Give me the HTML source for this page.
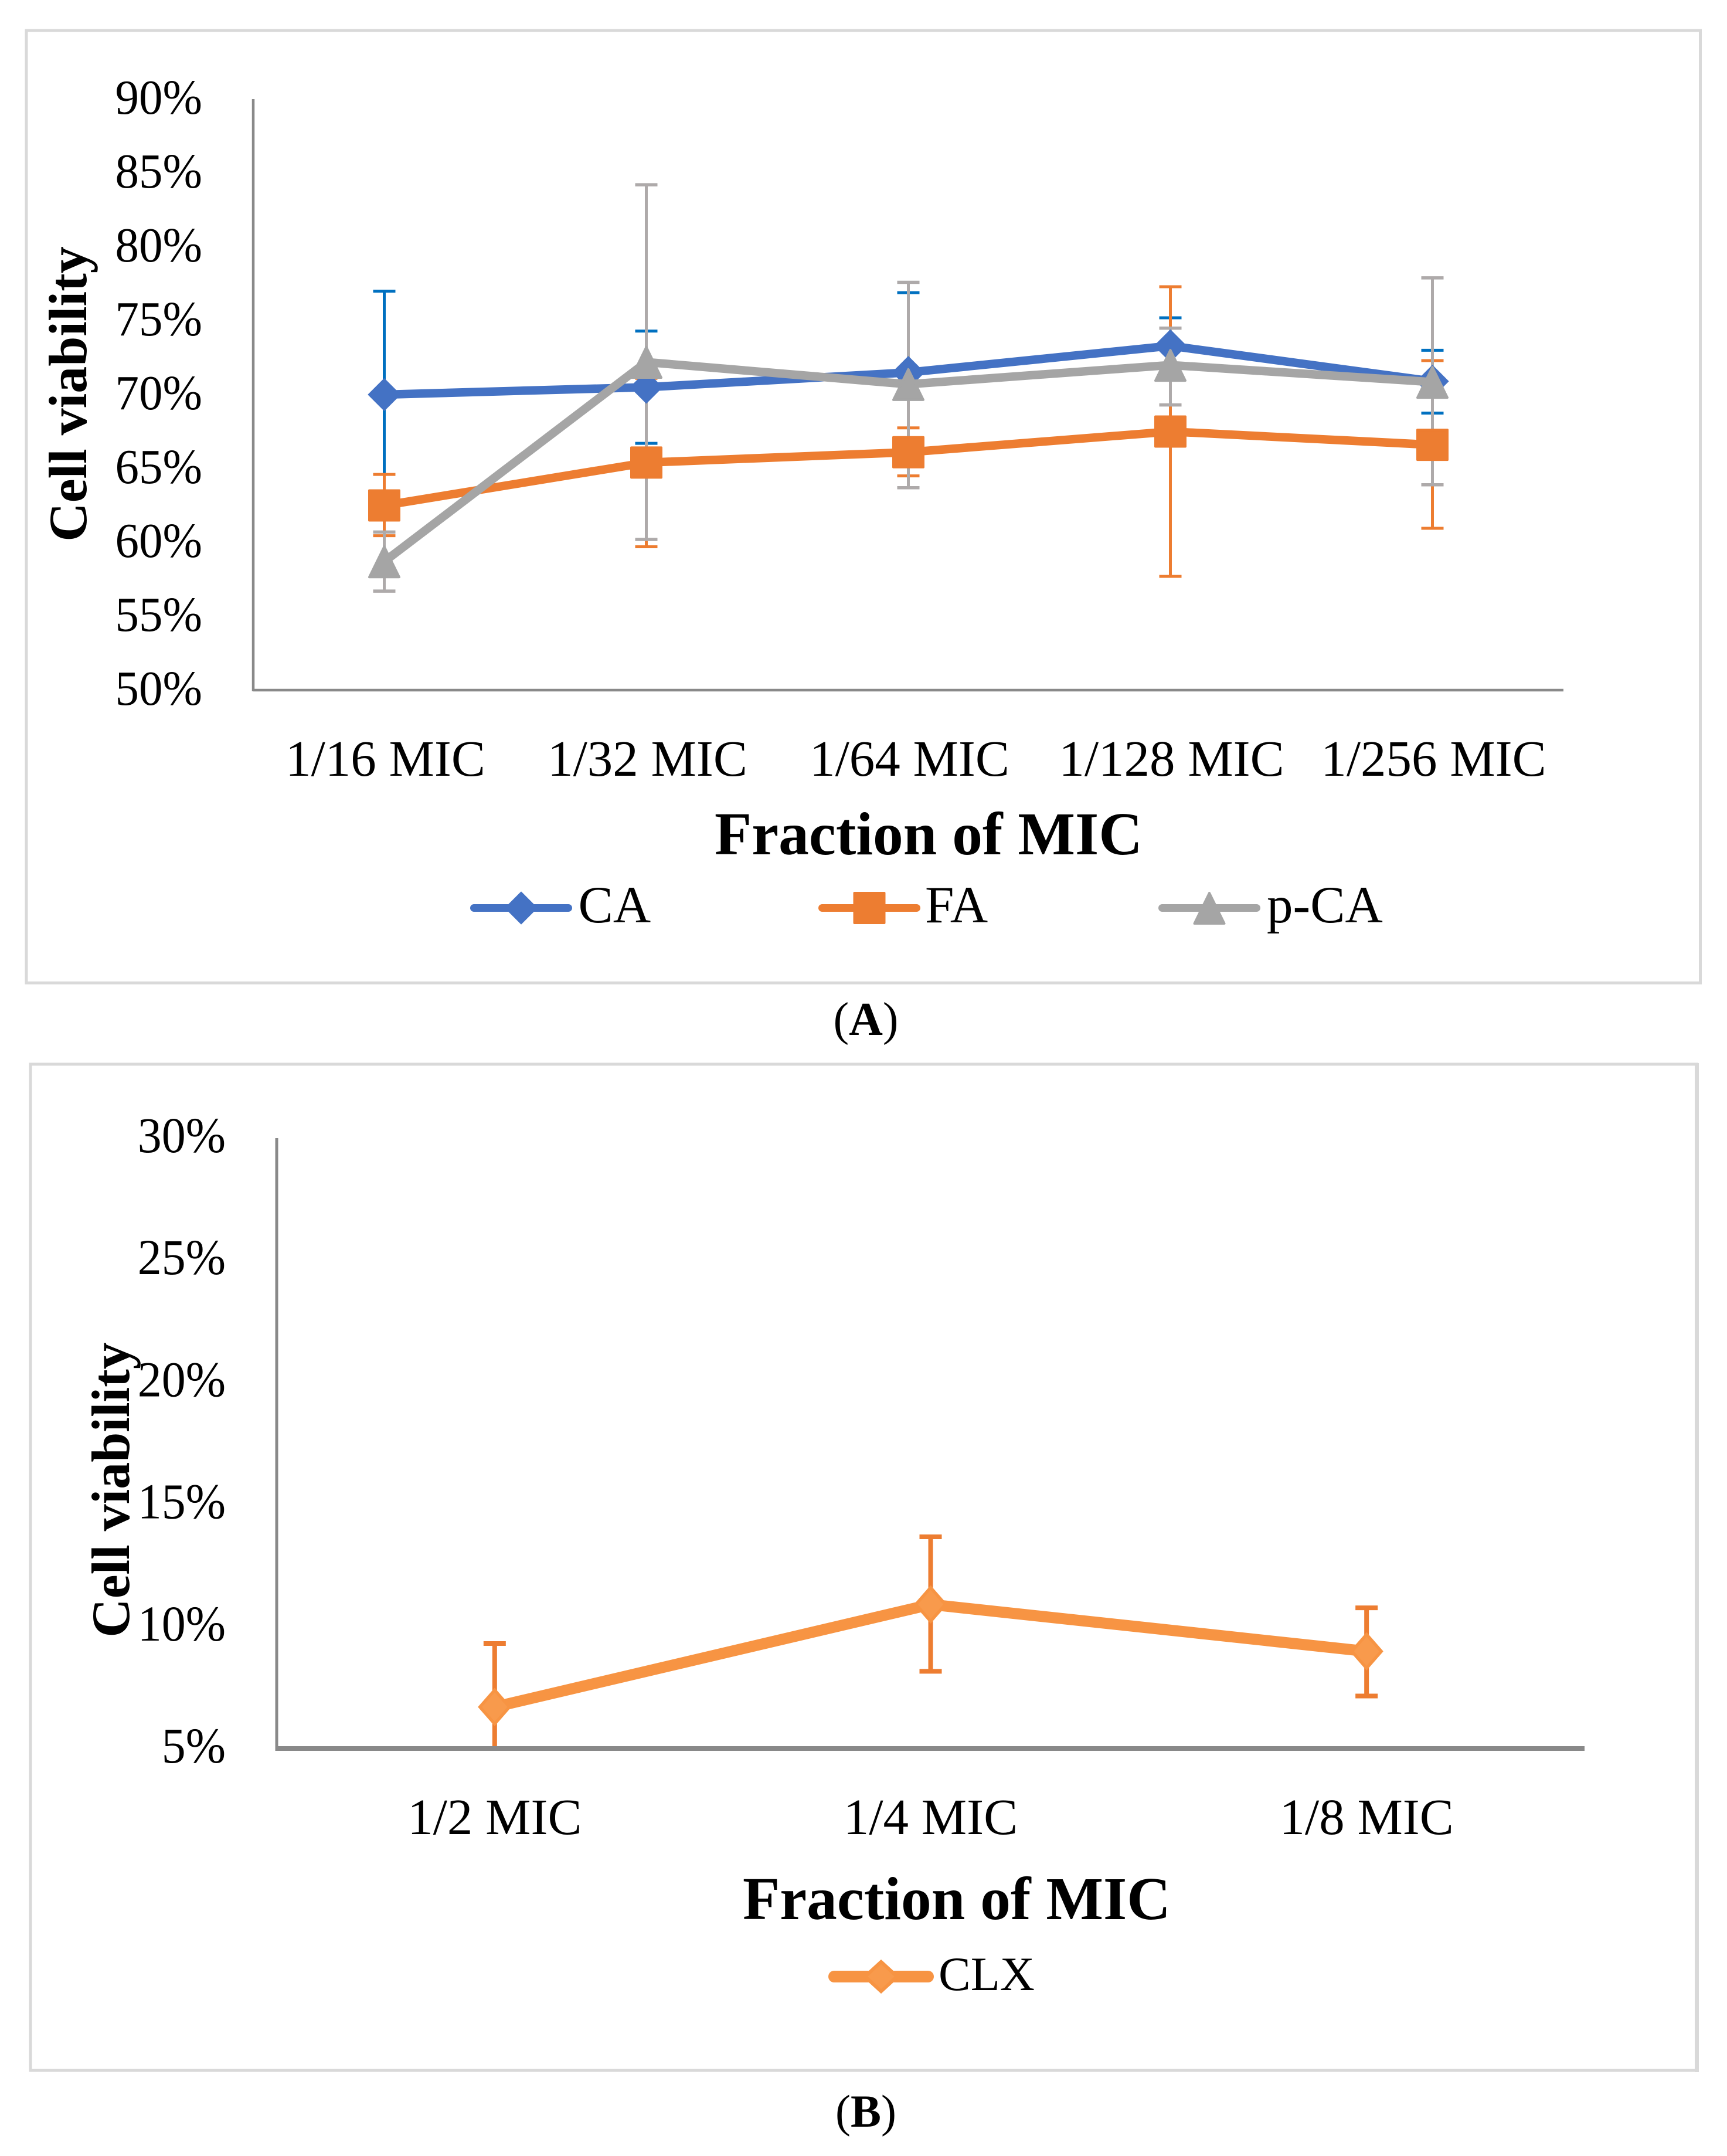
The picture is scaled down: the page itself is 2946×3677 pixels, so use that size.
<!DOCTYPE html>
<html lang="en">
<head>
<meta charset="utf-8">
<title>Cell viability vs fraction of MIC</title>
<style>
html,body{margin:0;padding:0;background:#fff;}
svg{display:block;position:absolute;left:0;top:0;}
text{font-family:"Liberation Serif","Times New Roman",serif;fill:#000;}
</style>
</head>
<body>
<svg id="fig" xmlns="http://www.w3.org/2000/svg" width="2946" height="3677" viewBox="0 0 2946 3677">
  <rect x="0" y="0" width="2946" height="3677" fill="#fff"/>
  <rect x="45" y="52" width="2855.5" height="1624.3" fill="#fff" stroke="#d9d9d9" stroke-width="5"/>
  <rect x="52" y="1815" width="2842.5" height="1716" fill="#fff" stroke="#d9d9d9" stroke-width="5"/>
  <line x1="2894.5" x2="2894.5" y1="1813" y2="3534" stroke="#d9d9d9" stroke-width="7"/>
  <g id="chartA"></g>
  <g id="chartB"></g>
  <text x="1477" y="1765" font-size="80" text-anchor="middle">(<tspan font-weight="bold">A</tspan>)</text>
  <text x="1477" y="3627" font-size="78" text-anchor="middle">(<tspan font-weight="bold">B</tspan>)</text>
</svg>
<script>
// Panel A data (percent)
const categoriesA = ['1/16 MIC', '1/32 MIC', '1/64 MIC', '1/128 MIC', '1/256 MIC'];
const ticksA = [50, 55, 60, 65, 70, 75, 80, 85, 90];
const caValues = [70.0, 70.5, 71.5, 73.3, 70.9];
const caHigh = [77.0, 74.3, 76.9, 75.2, 73.0];
const caLow = [63.0, 66.7, 66.1, 71.4, 68.75];
const faValues = [62.5, 65.4, 66.1, 67.5, 66.6];
const faHigh = [64.6, 71.1, 67.75, 77.3, 72.3];
const faLow = [60.45, 59.7, 64.5, 57.7, 60.95];
const pcaValues = [58.7, 72.2, 70.7, 72.0, 70.85];
const pcaHigh = [60.7, 84.2, 77.6, 74.5, 77.9];
const pcaLow = [56.7, 60.2, 63.7, 69.3, 63.9];

// Panel B data (percent)
const categoriesB = ['1/2 MIC', '1/4 MIC', '1/8 MIC'];
const ticksB = [5, 10, 15, 20, 25, 30];
const clxValues = [6.7, 10.9, 8.98];
const clxHigh = [9.3, 13.67, 10.76];
const clxLow = [5.0, 8.16, 7.15];

const NS = 'http://www.w3.org/2000/svg';

function make(parent, tag, name, attrs, content) {
  const e = document.createElementNS(NS, tag);
  
  
  for (const k in attrs) e.setAttribute(k, attrs[k]);
  if (content !== undefined) e.textContent = content;
  parent.appendChild(e);
  return e;
}

function scaleLinear(d0, d1, r0, r1) {
  return v => r0 + (v - d0) * (r1 - r0) / (d1 - d0);
}

function bandCenter(left, right, count) {
  return i => left + (right - left) * (i + 0.5) / count;
}

function marker(parent, shape, name, cx, cy, w, h, color) {
  const hw = w / 2, hh = h / 2;
  if (shape === 'square') {
    make(parent, 'rect', name, {x: cx - hw + 2, y: cy - hh + 2, width: w - 4, height: h - 4, fill: color, stroke: color, 'stroke-width': 4, 'stroke-linejoin': 'round'});
  } else if (shape === 'diamond') {
    make(parent, 'polygon', name, {points: [cx, cy - hh, cx + hw, cy, cx, cy + hh, cx - hw, cy].join(' '), fill: color, stroke: color, 'stroke-width': 1, 'stroke-linejoin': 'round'});
  } else {
    make(parent, 'polygon', name, {points: [cx, cy - hh + 2, cx + hw - 2, cy + hh - 1, cx - hw + 2, cy + hh - 1].join(' '), fill: color, stroke: color, 'stroke-width': 4, 'stroke-linejoin': 'round'});
  }
}

function errorBars(parent, id, x, y, high, low, color, sw, capW, capH) {
  high.forEach((hv, i) => {
    const g = make(parent, 'g', id + '-error-bar-' + (i + 1), {});
    const cx = x(i);
    make(g, 'line', id + '-error-stem', {x1: cx, x2: cx, y1: y(hv), y2: y(low[i]), stroke: color, 'stroke-width': sw});
    make(g, 'line', id + '-error-cap-high', {x1: cx - capW, x2: cx + capW, y1: y(hv), y2: y(hv), stroke: color, 'stroke-width': capH});
    make(g, 'line', id + '-error-cap-low', {x1: cx - capW, x2: cx + capW, y1: y(low[i]), y2: y(low[i]), stroke: color, 'stroke-width': capH});
  });
}

function seriesLine(parent, id, x, y, values, color, lw) {
  const pts = values.map((v, i) => x(i) + ',' + y(v)).join(' ');
  make(parent, 'polyline', id + '-line', {points: pts, fill: 'none', stroke: color, 'stroke-width': lw, 'stroke-linejoin': 'miter'});
}

function scaledText(parent, name, x, y, size, sy, anchor, str) {
  make(parent, 'text', name, {transform: 'translate(' + x + ' ' + y + ') scale(1 ' + sy + ')', 'font-size': size, 'text-anchor': anchor}, str);
}

// ---------- Panel A ----------
(function () {
  const root = document.getElementById('chartA');
  const left = 432, right = 2667, top = 169, bottom = 1177;
  const x = bandCenter(left, right, categoriesA.length);
  const y = scaleLinear(50, 90, bottom, top);
  const grey = '#898989';

  make(root, 'line', 'y-axis-a', {x1: left, x2: left, y1: top, y2: bottom + 2, stroke: grey, 'stroke-width': 4.5});
  make(root, 'line', 'x-axis-a', {x1: left, x2: right, y1: bottom, y2: bottom, stroke: grey, 'stroke-width': 4.5});

  ticksA.forEach(t => {
    scaledText(root, 'y-tick-a-' + t, 345, y(t) + 25, 81, 1.03, 'end', t + '%');
  });
  categoriesA.forEach((c, i) => {
    scaledText(root, 'x-tick-a-' + (i + 1), x(i) + 2, 1323, 87, 1, 'middle', c);
  });

  make(root, 'text', 'x-axis-title-a', {x: 1584, y: 1457, 'font-size': 103.5, 'font-weight': 'bold', 'text-anchor': 'middle'}, 'Fraction of MIC');
  make(root, 'text', 'y-axis-title-a', {transform: 'translate(147 672) rotate(-90)', 'font-size': 92, 'font-weight': 'bold', 'text-anchor': 'middle'}, 'Cell viability');

  errorBars(root, 'ca', x, y, caHigh, caLow, '#0070c0', 5, 19, 5);
  errorBars(root, 'fa', x, y, faHigh, faLow, '#ed7d31', 5, 19, 5);
  errorBars(root, 'pca', x, y, pcaHigh, pcaLow, '#aeaaaa', 5, 19, 5.5);

  const series = [
    {id: 'ca', values: caValues, color: '#4472c4', shape: 'diamond'},
    {id: 'fa', values: faValues, color: '#ed7d31', shape: 'square'},
    {id: 'pca', values: pcaValues, color: '#a5a5a5', shape: 'triangle'}
  ];
  series.forEach(s => {
    seriesLine(root, s.id, x, y, s.values, s.color, 14.5);
    s.values.forEach((v, i) => {
      marker(root, s.shape, s.id + '-point-' + (i + 1), x(i), y(v), 55, 55, s.color);
    });
  });

  // legend
  const legendY = 1548.5;
  const legend = [
    {name: 'CA', lx: 802, tx: 986.5, color: '#4472c4', shape: 'diamond'},
    {name: 'FA', lx: 1396, tx: 1578, color: '#ed7d31', shape: 'square'},
    {name: 'p-CA', lx: 1976, tx: 2161, color: '#a5a5a5', shape: 'triangle'}
  ];
  legend.forEach(l => {
    const g = make(root, 'g', 'legend-entry-' + l.name.toLowerCase(), {});
    make(g, 'line', 'legend-line', {x1: l.lx + 6.5, x2: l.lx + 167.5, y1: legendY, y2: legendY, stroke: l.color, 'stroke-width': 13, 'stroke-linecap': 'round'});
    marker(g, l.shape, 'legend-marker', l.lx + 87, legendY, 55, 55, l.color);
    make(g, 'text', 'legend-label', {x: l.tx, y: 1573, 'font-size': 89}, l.name);
  });
})();

// ---------- Panel B ----------
(function () {
  const root = document.getElementById('chartB');
  const left = 472, right = 2703, top = 1941, bottom = 2982;
  const x = bandCenter(left, right, categoriesB.length);
  const y = scaleLinear(5, 30, bottom, top);
  const grey = '#898989';
  const clxColor = '#f79443';
  const clxInner = '#f89a4c';

  make(root, 'line', 'y-axis-b', {x1: left, x2: left, y1: top, y2: bottom + 4, stroke: grey, 'stroke-width': 5});

  errorBars(root, 'clx', x, y, clxHigh, clxLow, '#ed7d31', 8, 19, 8);

  make(root, 'line', 'x-axis-b', {x1: left - 2, x2: right, y1: bottom, y2: bottom, stroke: grey, 'stroke-width': 8});

  ticksB.forEach(t => {
    scaledText(root, 'y-tick-b-' + t, 385, y(t) + 24, 82, 1.04, 'end', t + '%');
  });
  categoriesB.forEach((c, i) => {
    scaledText(root, 'x-tick-b-' + (i + 1), x(i), 3128, 87, 1, 'middle', c);
  });

  make(root, 'text', 'x-axis-title-b', {x: 1632, y: 3273, 'font-size': 103.5, 'font-weight': 'bold', 'text-anchor': 'middle'}, 'Fraction of MIC');
  make(root, 'text', 'y-axis-title-b', {transform: 'translate(220 2541) rotate(-90)', 'font-size': 92, 'font-weight': 'bold', 'text-anchor': 'middle'}, 'Cell viability');

  seriesLine(root, 'clx', x, y, clxValues, clxColor, 19);
  clxValues.forEach((v, i) => {
    marker(root, 'diamond', 'clx-point-' + (i + 1), x(i), y(v), 56, 64, clxColor);
    marker(root, 'diamond', 'clx-point-core-' + (i + 1), x(i), y(v), 42, 48, clxInner);
  });

  const g = make(root, 'g', 'legend-entry-clx', {});
  make(g, 'line', 'legend-line', {x1: 1423, x2: 1583, y1: 3371, y2: 3371, stroke: clxColor, 'stroke-width': 20, 'stroke-linecap': 'round'});
  marker(g, 'diamond', 'legend-marker', 1503, 3371, 62, 57, clxColor);
  marker(g, 'diamond', 'legend-marker-core', 1503, 3371, 44, 41, clxInner);
  make(g, 'text', 'legend-label', {x: 1601, y: 3394, 'font-size': 82}, 'CLX');
})();
</script>
</body>
</html>
